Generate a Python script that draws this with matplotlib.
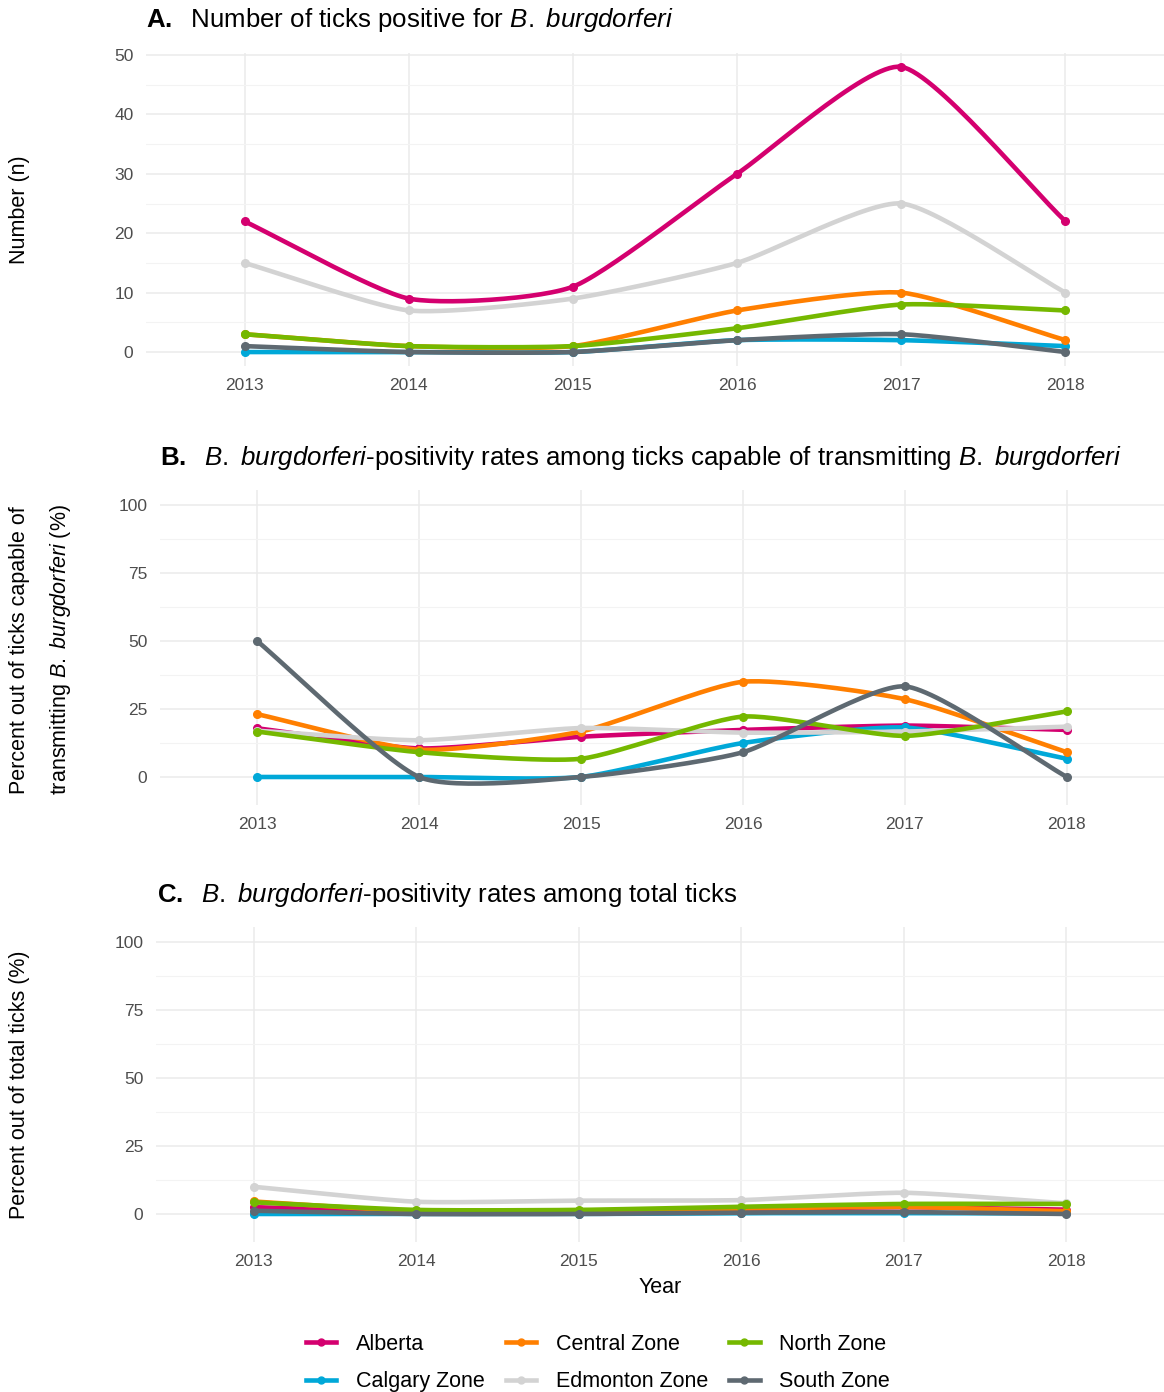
import matplotlib

matplotlib.use("Agg")
import matplotlib.pyplot as plt
import numpy as np
from matplotlib.lines import Line2D
from matplotlib.ticker import FixedLocator

plt.rcParams["font.family"] = ["Liberation Sans", "DejaVu Sans"]
plt.rcParams["mathtext.fontset"] = "custom"
plt.rcParams["mathtext.rm"] = "Liberation Sans"
plt.rcParams["mathtext.it"] = "Liberation Sans:italic"
plt.rcParams["mathtext.bf"] = "Liberation Sans:bold"

# --- data -----------------------------------------------------------------------

years = [2013, 2014, 2015, 2016, 2017, 2018]
zones = ["Alberta", "Calgary Zone", "Central Zone", "Edmonton Zone", "North Zone", "South Zone"]
colors = ["#D4006F", "#00A8D8", "#FF7F00", "#D3D3D3", "#75B800", "#5E6971"]

# A. number of positive ticks
count_alberta = [22, 9, 11, 30, 48, 22]
count_calgary = [0, 0, 0, 2, 2, 1]
count_central = [3, 1, 1, 7, 10, 2]
count_edmonton = [15, 7, 9, 15, 25, 10]
count_north = [3, 1, 1, 4, 8, 7]
count_south = [1, 0, 0, 2, 3, 0]

# B. positivity among ticks capable of transmitting (%)
capable_alberta = [17.9, 10.5, 14.8, 17.3, 18.9, 17.3]
capable_calgary = [0, 0, 0, 12.5, 18.2, 6.7]
capable_central = [23.1, 10.0, 16.7, 35.0, 28.6, 9.1]
capable_edmonton = [17.0, 13.5, 18.0, 16.3, 16.7, 18.5]
capable_north = [16.7, 9.1, 6.7, 22.2, 15.1, 24.1]
capable_south = [50.0, 0, 0, 9.1, 33.3, 0]

# C. positivity among total ticks (%)
total_alberta = [2.5, 1.0, 1.2, 1.8, 2.5, 1.6]
total_calgary = [0, 0, 0, 0.3, 0.3, 0.2]
total_central = [4.6, 1.0, 1.0, 2.0, 2.6, 1.0]
total_edmonton = [10.0, 4.5, 4.9, 5.1, 7.8, 3.9]
total_north = [4.3, 1.5, 1.5, 2.7, 3.7, 3.7]
total_south = [1.2, 0, 0, 0.5, 0.7, 0]

panels = [
    [count_alberta, count_calgary, count_central, count_edmonton, count_north, count_south],
    [capable_alberta, capable_calgary, capable_central, capable_edmonton, capable_north, capable_south],
    [total_alberta, total_calgary, total_central, total_edmonton, total_north, total_south],
]

# --- helpers --------------------------------------------------------------------

def smooth(x, y, n=30, k=0.3):
    """Cardinal spline through the points (drawing only); k scales the tangents."""
    p = np.column_stack([x, y]).astype(float)
    p = np.vstack([2 * p[0] - p[1], p, 2 * p[-1] - p[-2]])
    t = np.linspace(0, 1, n, endpoint=False)[:, None]
    h00 = 2 * t ** 3 - 3 * t ** 2 + 1
    h10 = t ** 3 - 2 * t ** 2 + t
    h01 = -2 * t ** 3 + 3 * t ** 2
    h11 = t ** 3 - t ** 2
    out = []
    for i in range(1, len(p) - 2):
        m1 = k * (p[i + 1] - p[i - 1])
        m2 = k * (p[i + 2] - p[i])
        out.append(h00 * p[i] + h10 * m1 + h01 * p[i + 1] + h11 * m2)
    out.append(p[-2][None, :])
    c = np.vstack(out)
    return c[:, 0], c[:, 1]


def style_axes(ax, ylim, major, minor):
    ax.set_xlim(-0.6, len(years) - 0.4)
    ax.set_ylim(*ylim)
    ax.set_xticks(range(len(years)))
    ax.set_xticklabels([str(y) for y in years])
    ax.yaxis.set_major_locator(FixedLocator(major))
    ax.yaxis.set_minor_locator(FixedLocator(minor))
    ax.grid(which="major", color="#EBEBEB", lw=1.1)
    ax.grid(which="minor", axis="y", color="#F3F3F3", lw=0.8)
    ax.set_axisbelow(True)
    for s in ax.spines.values():
        s.set_visible(False)
    ax.tick_params(which="both", length=0, labelsize=12.5, labelcolor="#4D4D4D")
    ax.tick_params(axis="x", pad=8.5)
    ax.tick_params(axis="y", pad=9)


# --- figure ---------------------------------------------------------------------

fig = plt.figure(figsize=(11.64, 13.92), dpi=100)
H = 1392
boxes = [(146, 52.6, 366.3), (160, 490, 805), (156, 927, 1242)]
ylims = [(-2.4, 50.4), (-10.3, 105.5), (-10.3, 105.5)]
majors = [[0, 10, 20, 30, 40, 50], [0, 25, 50, 75, 100], [0, 25, 50, 75, 100]]
minors = [[5, 15, 25, 35, 45], [12.5, 37.5, 62.5, 87.5], [12.5, 37.5, 62.5, 87.5]]

axes = []
for (left, top, bottom), yl, mj, mn, series in zip(boxes, ylims, majors, minors, panels):
    ax = fig.add_axes([left / 1164, 1 - bottom / H, 1 - left / 1164, (bottom - top) / H])
    style_axes(ax, yl, mj, mn)
    xi = np.arange(len(years))
    for vals, col in zip(series, colors):
        sx, sy = smooth(xi, vals)
        ax.plot(sx, sy, color=col, lw=3.3, solid_capstyle="round", zorder=3)
        ax.plot(xi, vals, "o", color=col, ms=5.5, zorder=3)
    axes.append(ax)

axes[2].set_xlabel("Year", fontsize=15.5, labelpad=6)

tsize = 18.6
fig.text(146 / 1164, 1 - 20 / H,
         r"$\bf{A.}$  Number of ticks positive for $\it{B.}$ $\it{burgdorferi}$",
         fontsize=tsize, va="center", ha="left")
fig.text(160 / 1164, 1 - 458 / H,
         r"$\bf{B.}$  $\it{B.}$ $\it{burgdorferi}$-positivity rates among ticks capable of "
         r"transmitting $\it{B.}$ $\it{burgdorferi}$",
         fontsize=tsize, va="center", ha="left")
fig.text(157 / 1164, 1 - 895 / H,
         r"$\bf{C.}$  $\it{B.}$ $\it{burgdorferi}$-positivity rates among total ticks",
         fontsize=tsize, va="center", ha="left")

lsize = 15.5
fig.text(20 / 1164, 1 - 210 / H, "Number (n)", rotation=90, fontsize=lsize, va="center", ha="center")
fig.text(20 / 1164, 1 - 650 / H, "Percent out of ticks capable of", rotation=90,
         fontsize=lsize, va="center", ha="center")
fig.text(61 / 1164, 1 - 650 / H, r"transmitting $\it{B.}$ $\it{burgdorferi}$ (%)", rotation=90,
         fontsize=lsize, va="center", ha="center")
fig.text(20 / 1164, 1 - 1085 / H, "Percent out of total ticks (%)", rotation=90,
         fontsize=lsize, va="center", ha="center")

handles = [Line2D([0], [0], color=c, lw=3.3, marker="o", ms=5) for c in colors]
fig.legend(handles, zones, loc="center", bbox_to_anchor=(598 / 1164, 1 - 1363 / H), ncol=3,
           frameon=False, fontsize=15.5, handlelength=1.4, columnspacing=1.0,
           handletextpad=0.9, labelspacing=0.75)

fig.savefig("out.png", dpi=100)
